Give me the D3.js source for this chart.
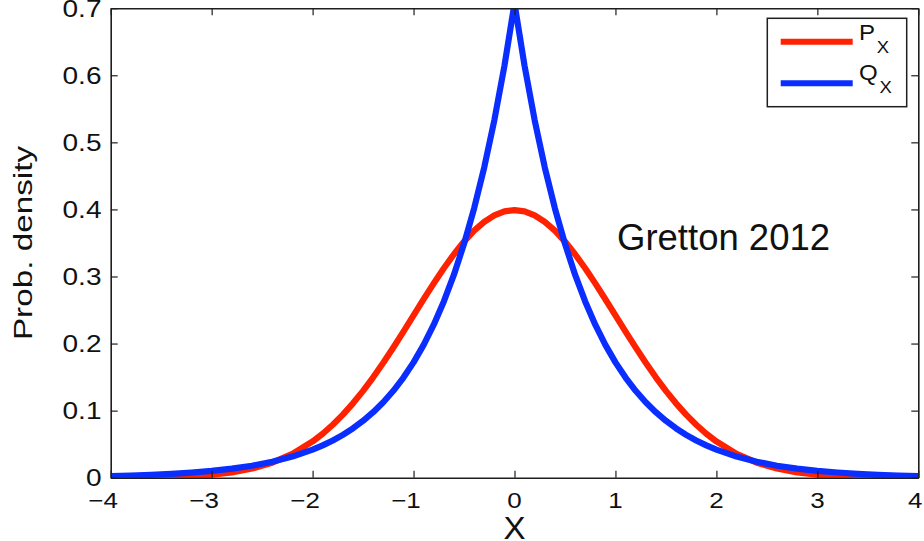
<!DOCTYPE html>
<html>
<head>
<meta charset="utf-8">
<script src="https://cdn.jsdelivr.net/npm/d3@7"></script>
<style>
  html, body { margin: 0; padding: 0; background: #fff; }
  svg { display: block; font-family: "Liberation Sans", Arial, Helvetica, sans-serif; }
</style>
</head>
<body>
<svg id="chart" width="924" height="541"></svg>
<script>
// Sample positions along X
const xs = [-4, -3.8, -3.6, -3.4, -3.2, -3, -2.8, -2.6, -2.4, -2.2,
  -2, -1.9, -1.8, -1.7, -1.6, -1.5, -1.4, -1.3, -1.2, -1.1,
  -1, -0.9, -0.8, -0.7, -0.6, -0.5, -0.4, -0.3, -0.2, -0.1,
  0,
  0.1, 0.2, 0.3, 0.4, 0.5, 0.6, 0.7, 0.8, 0.9, 1,
  1.1, 1.2, 1.3, 1.4, 1.5, 1.6, 1.7, 1.8, 1.9, 2,
  2.2, 2.4, 2.6, 2.8, 3, 3.2, 3.4, 3.6, 3.8, 4];

// P_X density (bell shaped)
const pX = [0.0001, 0.0003, 0.0006, 0.0012, 0.0024, 0.0044, 0.0079, 0.0136, 0.0224, 0.0355,
  0.0540, 0.0656, 0.0790, 0.0940, 0.1109, 0.1295, 0.1497, 0.1714, 0.1942, 0.2179,
  0.2420, 0.2661, 0.2897, 0.3123, 0.3332, 0.3521, 0.3683, 0.3814, 0.3910, 0.3970,
  0.3989,
  0.3970, 0.3910, 0.3814, 0.3683, 0.3521, 0.3332, 0.3123, 0.2897, 0.2661, 0.2420,
  0.2179, 0.1942, 0.1714, 0.1497, 0.1295, 0.1109, 0.0940, 0.0790, 0.0656, 0.0540,
  0.0355, 0.0224, 0.0136, 0.0079, 0.0044, 0.0024, 0.0012, 0.0006, 0.0003, 0.0001];

// Q_X density (sharp peak, heavy tails)
const qX = [0.0025, 0.0033, 0.0043, 0.0058, 0.0077, 0.0102, 0.0135, 0.0179, 0.0238, 0.0315,
  0.0418, 0.0482, 0.0555, 0.0639, 0.0736, 0.0848, 0.0977, 0.1125, 0.1296, 0.1493,
  0.1719, 0.1980, 0.2281, 0.2628, 0.3027, 0.3487, 0.4016, 0.4626, 0.5329, 0.6138,
  0.7071,
  0.6138, 0.5329, 0.4626, 0.4016, 0.3487, 0.3027, 0.2628, 0.2281, 0.1980, 0.1719,
  0.1493, 0.1296, 0.1125, 0.0977, 0.0848, 0.0736, 0.0639, 0.0555, 0.0482, 0.0418,
  0.0315, 0.0238, 0.0179, 0.0135, 0.0102, 0.0077, 0.0058, 0.0043, 0.0033, 0.0025];

const xTicks = [-4, -3, -2, -1, 0, 1, 2, 3, 4];
const yTicks = [0, 0.1, 0.2, 0.3, 0.4, 0.5, 0.6, 0.7];
const seriesNames = ["P", "Q"];
const seriesColors = ["#ff2200", "#0a2eff"];

const svg = d3.select("#chart");
const W = 924, H = 541;
svg.append("rect").attr("width", W).attr("height", H).attr("fill", "#fff");

const plot = { left: 110.7, right: 918.3, top: 8.2, bottom: 477.7 };
const x = d3.scaleLinear().domain([-4, 4]).range([plot.left, plot.right]);
const y = d3.scaleLinear().domain([0, 0.7]).range([plot.bottom, plot.top]);

const axisColor = "#1e1e1e";
const tickLen = 7;

// Clip curves to the axes box
svg.append("defs").append("clipPath").attr("id", "plotClip")
  .append("rect")
  .attr("x", plot.left).attr("y", plot.top)
  .attr("width", plot.right - plot.left).attr("height", plot.bottom - plot.top);

// Density curves
const line = (vals) => d3.line()
  .x((d, i) => x(xs[i]))
  .y(d => y(d))
  .curve(d3.curveLinear)(vals);

const curves = svg.append("g").attr("clip-path", "url(#plotClip)");
[pX, qX].forEach((vals, k) => {
  curves.append("path")
    .attr("d", line(vals))
    .attr("fill", "none")
    .attr("stroke", seriesColors[k])
    .attr("stroke-width", 6.2)
    .attr("stroke-linejoin", "round");
});

// Axes box with inward ticks on all four sides
const axB = svg.append("g").attr("transform", `translate(0,${plot.bottom})`)
  .call(d3.axisBottom(x).tickValues(xTicks).tickSizeInner(-tickLen).tickSizeOuter(0).tickFormat(""));
const axT = svg.append("g").attr("transform", `translate(0,${plot.top})`)
  .call(d3.axisTop(x).tickValues(xTicks).tickSizeInner(-tickLen).tickSizeOuter(0).tickFormat(""));
const axL = svg.append("g").attr("transform", `translate(${plot.left},0)`)
  .call(d3.axisLeft(y).tickValues(yTicks).tickSizeInner(-tickLen).tickSizeOuter(0).tickFormat(""));
const axR = svg.append("g").attr("transform", `translate(${plot.right},0)`)
  .call(d3.axisRight(y).tickValues(yTicks).tickSizeInner(-tickLen).tickSizeOuter(0).tickFormat(""));
[axB, axT, axL, axR].forEach(g => {
  g.selectAll(".domain").attr("stroke", axisColor).attr("stroke-width", 1.6);
  g.selectAll(".tick line").attr("stroke", axisColor).attr("stroke-width", 1.2);
});

// Text helper: draws text in a group that is stretched along the text direction
function stretchedText(parent, px, py, str, opts) {
  const g = parent.append("g")
    .attr("transform", `translate(${px},${py}) rotate(${opts.rotate || 0}) scale(${opts.sx || 1},1)`);
  const t = g.append("text")
    .attr("x", opts.dx || 0)
    .attr("y", opts.dy || 0)
    .attr("text-anchor", opts.anchor || "start")
    .attr("font-size", opts.size)
    .attr("fill", opts.fill || "#111")
    .text(str);
  return t;
}

// Y tick labels
const yFs = 23;
yTicks.forEach(v => {
  const lbl = v === 0 ? "0" : d3.format(".1f")(v);
  const base = Math.max(y(v) + yFs * 0.716 / 2, 17);
  stretchedText(svg, 101.5, base, lbl, { size: yFs, sx: 1.22, anchor: "end" });
});

// X tick labels: digit centred on the tick, minus sign hanging to the left
const xFs = 22, xSx = 1.18;
xTicks.forEach(v => {
  const lbl = v < 0 ? "\u2212" + Math.abs(v) : String(v);
  const half = xFs * 0.278 * xSx;
  const cx = Math.min(x(v), W - 1.5 - half);
  stretchedText(svg, cx, 508, lbl, { size: xFs, sx: xSx, anchor: "end", dx: xFs * 0.278 });
});

// Axis titles
stretchedText(svg, x(0), 538.5, "X", { size: 31.5, sx: 1.05, anchor: "middle" });
stretchedText(svg, 32, 243, "Prob. density", { size: 26, sx: 1.28, anchor: "middle", rotate: -90 });

// Legend
const legend = svg.append("g");
legend.append("rect")
  .attr("x", 767.3).attr("y", 18.3).attr("width", 139.4).attr("height", 88.4)
  .attr("fill", "#fff").attr("stroke", axisColor).attr("stroke-width", 1.5);
const legRows = [41.7, 83.3];
seriesNames.forEach((name, k) => {
  legend.append("line")
    .attr("x1", 780.7).attr("x2", 852.7)
    .attr("y1", legRows[k]).attr("y2", legRows[k])
    .attr("stroke", seriesColors[k]).attr("stroke-width", 6);
  const t = stretchedText(legend, 859, legRows[k] - 1.5 + (k === 1 ? -1.5 : 0), name, { size: 21.5, sx: 1.12 });
  t.append("tspan").attr("font-size", 16.5).attr("dx", 1.5).attr("dy", 12.5).text("X");
});

// Annotation
svg.append("text")
  .attr("x", 617).attr("y", 250)
  .attr("font-size", 36.5)
  .attr("fill", "#111")
  .text("Gretton 2012");
</script>
</body>
</html>
